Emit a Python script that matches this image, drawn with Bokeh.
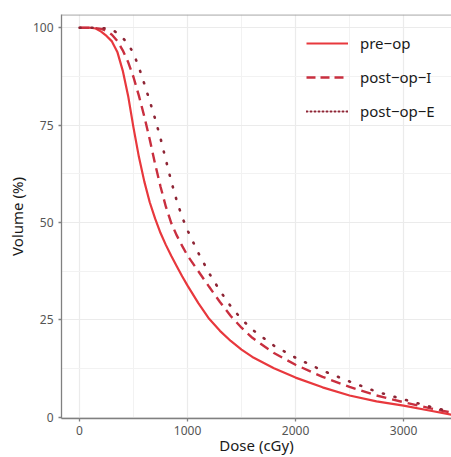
from bokeh.plotting import figure
from bokeh.models import FixedTicker, Span, Legend, LegendItem
from bokeh.embed import file_html
from bokeh.resources import INLINE

# ---- data ----
dose = [0, 50, 100, 150, 200, 250, 300, 350, 400, 450, 500, 550, 600, 650, 700, 750,
        800, 850, 900, 950, 1000, 1100, 1200, 1300, 1400, 1500, 1600, 1800, 2000,
        2250, 2500, 2750, 3000, 3250, 3500]
pre_op = [100, 100, 100, 99.8, 99.0, 97.9, 96.5, 93.8, 89, 82.5, 74.3, 66.8, 60.5, 55.2,
          51, 47.3, 44.2, 41.4, 38.8, 36.2, 33.8, 29.3, 25.3, 22.2, 19.6, 17.4, 15.5,
          12.6, 10.2, 7.7, 5.6, 4.1, 3.0, 1.7, 0.4]
post_op_I = [100, 100, 100, 99.9, 99.7, 99.2, 98.2, 96.6, 94.2, 91.2, 87.3, 82.5, 77.2,
             71.3, 65, 59.2, 54, 49.8, 46.7, 44, 41.5, 37.5, 33.5, 29.6, 26, 23, 20.4,
             16.5, 13.5, 10.4, 7.8, 5.6, 3.9, 2.3, 0.9]
post_op_E = [100, 100, 100, 100, 99.9, 99.8, 99.6, 98.6, 97.4, 95.8, 93.4, 89.8, 85.6,
             81.2, 76.6, 71.6, 66, 60.5, 55.6, 51.4, 48, 42.2, 37, 32.5, 28.5, 25.2, 22.5,
             18.4, 15.3, 12, 9.2, 6.6, 4.6, 2.7, 1.0]
series_names = ["pre\u2212op", "post\u2212op\u2212I", "post\u2212op\u2212E"]
x_ticks = [0, 1000, 2000, 3000]
x_minor = [500, 1500, 2500]
y_ticks = [0, 25, 50, 75, 100]
y_minor = [12.5, 37.5, 62.5, 87.5]

FONT = "Noto Sans"
colors = ["#E8383D", "#C92F3F", "#8E2535"]

p = figure(width=451, height=457, output_backend="svg", toolbar_location=None,
           x_range=(-167, 3444), y_range=(-0.3, 103.4),
           min_border_left=61, min_border_top=14, min_border_right=0, min_border_bottom=38)
p.outline_line_color = None
p.background_fill_color = "white"
p.border_fill_color = "white"

# axes
p.xaxis.ticker = FixedTicker(ticks=x_ticks, minor_ticks=x_minor)
p.yaxis.ticker = FixedTicker(ticks=y_ticks, minor_ticks=y_minor)
for ax in (p.xaxis[0], p.yaxis[0]):
    ax.axis_line_color = "#808080"
    ax.axis_line_width = 1.3
    ax.major_tick_line_color = "#808080"
    ax.major_tick_line_width = 1.3
    ax.major_tick_out = 3
    ax.major_tick_in = 0
    ax.minor_tick_line_color = None
    ax.major_label_text_font = FONT
    ax.major_label_text_font_size = "12px"
    ax.major_label_text_color = "#555555"
    ax.axis_label_text_font = FONT
    ax.axis_label_text_font_size = "15px"
    ax.axis_label_text_font_style = "normal"
    ax.axis_label_text_color = "#1a1a1a"
p.xaxis.axis_label = "Dose (cGy)"
p.yaxis.axis_label = "Volume (%)"
p.xaxis.major_label_standoff = 3
p.xaxis.axis_label_standoff = -3
p.yaxis.major_label_standoff = 4
p.yaxis.axis_label_standoff = 3

# grid
for g in (p.xgrid[0], p.ygrid[0]):
    g.grid_line_color = "#EBEBEB"
    g.grid_line_width = 1.2
    g.minor_grid_line_color = "#F2F2F2"
    g.minor_grid_line_width = 1

# top border of the panel
p.add_layout(Span(location=103.3, dimension="width", line_color="#9a9a9a", line_width=1.2))

nan = float("nan")
r1 = p.line(dose, pre_op, line_color=colors[0], line_width=2.2)
r2 = p.line(dose, post_op_I, line_color=colors[1], line_width=2.4, line_dash="10 6")
r3 = p.line(dose, post_op_E, line_color=colors[2], line_width=2.6, line_dash="1 11",
            line_cap="round")
# legend keys (styled like the reference legend, nothing drawn in the panel)
k2 = p.line([nan, nan], [nan, nan], line_color=colors[1], line_width=2.4, line_dash="9 5")
k3 = p.line([nan, nan], [nan, nan], line_color=colors[2], line_width=2.0,
            line_dash="1 3", line_cap="round")

legend = Legend(items=[LegendItem(label=series_names[0], renderers=[r1]),
                       LegendItem(label=series_names[1], renderers=[k2]),
                       LegendItem(label=series_names[2], renderers=[k3])],
                location=(245, 297))
legend.background_fill_alpha = 0
legend.border_line_color = None
legend.padding = 0
legend.margin = 0
legend.spacing = 14
legend.glyph_width = 42
legend.glyph_height = 20
legend.label_height = 20
legend.label_standoff = 12
legend.label_text_font = FONT
legend.label_text_font_size = "15px"
legend.label_text_color = "#1a1a1a"
p.add_layout(legend)

open("out.html", "w").write(file_html(p, INLINE))
